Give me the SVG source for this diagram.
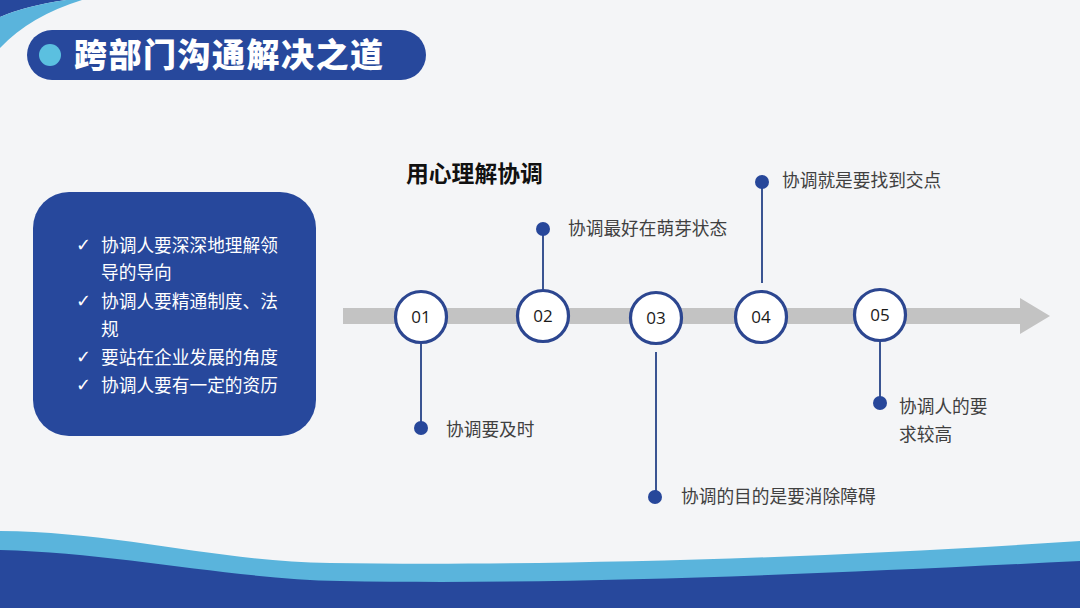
<svg xmlns="http://www.w3.org/2000/svg" width="1080" height="608" viewBox="0 0 1080 608">
  <defs>
    <style>
      .cn { font-family: "Noto Sans CJK SC", "Noto Sans", sans-serif; }
      .lbl { font-family: "Noto Sans CJK SC", sans-serif; font-size: 17.7px; fill: #404040; }
      .box { font-family: "Noto Sans CJK SC", sans-serif; font-size: 17.7px; fill: #ffffff; }
      .chk { font-family: "DejaVu Sans", sans-serif; font-size: 18px; fill: #ffffff; }
      .num { font-family: "Open Sans", "Noto Sans", sans-serif; font-size: 17px; fill: #1a1a1a; text-anchor: middle; }
      .ring { fill: #ffffff; stroke: #2c4690; stroke-width: 3.2; }
      .conn { stroke: #3a5492; stroke-width: 2; fill: none; }
      .dot { fill: #27479a; }
    </style>
  </defs>

  <!-- background -->
  <rect x="0" y="0" width="1080" height="608" fill="#f4f5f7"/>

  <!-- top-left swoosh -->
  <path d="M0,0 L66,0 Q25,6 0,17 Z" fill="#27489c"/>
  <path d="M66,0 L82,0 Q30,16 0,48 L0,17 Q25,6 66,0 Z" fill="#5ab4dc"/>

  <!-- bottom waves -->
  <path d="M0,531 C120,532 220,562 330,563 C520,566 800,560 1080,541 L1080,608 L0,608 Z" fill="#5ab4dc"/>
  <path d="M0,550 C120,553 230,579 340,581 C560,585 800,575 1080,561 L1080,608 L0,608 Z" fill="#27489c"/>

  <!-- title -->
  <g id="title">
    <rect x="27" y="30" width="399" height="50" rx="25" fill="#27489c"/>
    <circle cx="50" cy="55" r="11" fill="#5bc0e0"/>
    <text x="74" y="67" class="cn" font-size="33" font-weight="900" letter-spacing="1.5" fill="#ffffff">跨部门沟通解决之道</text>
  </g>

  <!-- left box -->
  <g id="leftbox">
    <rect x="33" y="192" width="283" height="244" rx="36" fill="#27489c"/>
    <text x="76" y="251" class="chk">✓</text>
    <text x="101" y="252" class="box">协调人要深深地理解领</text>
    <text x="101" y="279" class="box">导的导向</text>
    <text x="76" y="307" class="chk">✓</text>
    <text x="101" y="308" class="box">协调人要精通制度、法</text>
    <text x="101" y="336" class="box">规</text>
    <text x="76" y="363" class="chk">✓</text>
    <text x="101" y="364" class="box">要站在企业发展的角度</text>
    <text x="76" y="391" class="chk">✓</text>
    <text x="101" y="392" class="box">协调人要有一定的资历</text>
  </g>

  <!-- subtitle -->
  <text id="subtitle" x="406" y="182" class="cn" font-size="22.8" font-weight="bold" fill="#111111">用心理解协调</text>

  <!-- timeline arrow -->
  <g id="arrow">
    <rect x="343" y="308" width="680" height="16" fill="#c3c3c3"/>
    <polygon points="1020,298 1050,316 1020,334" fill="#c3c3c3"/>
  </g>

  <!-- connectors -->
  <g id="connectors">
    <line class="conn" x1="421" y1="343" x2="421" y2="428"/>
    <line class="conn" x1="543" y1="229" x2="543" y2="290"/>
    <line class="conn" x1="656" y1="352" x2="656" y2="497"/>
    <line class="conn" x1="762" y1="182" x2="762" y2="283"/>
    <line class="conn" x1="880" y1="341" x2="880" y2="403"/>
  </g>

  <!-- nodes -->
  <g id="n01">
    <circle class="ring" cx="421" cy="317" r="25.5"/>
    <text class="num" x="421" y="323">01</text>
    <circle class="dot" cx="421" cy="428" r="7"/>
    <text class="lbl" x="446" y="436">协调要及时</text>
  </g>
  <g id="n02">
    <circle class="ring" cx="543" cy="316" r="25.5"/>
    <text class="num" x="543" y="322">02</text>
    <circle class="dot" cx="543" cy="229" r="7"/>
    <text class="lbl" x="568" y="235">协调最好在萌芽状态</text>
  </g>
  <g id="n03">
    <circle class="ring" cx="656" cy="318" r="25.5"/>
    <text class="num" x="656" y="324">03</text>
    <circle class="dot" cx="655" cy="497" r="7"/>
    <text class="lbl" x="681" y="503">协调的目的是要消除障碍</text>
  </g>
  <g id="n04">
    <circle class="ring" cx="761" cy="317" r="25.5"/>
    <text class="num" x="761" y="323">04</text>
    <circle class="dot" cx="762" cy="182" r="7"/>
    <text class="lbl" x="782" y="187">协调就是要找到交点</text>
  </g>
  <g id="n05">
    <circle class="ring" cx="880" cy="315" r="25.5"/>
    <text class="num" x="880" y="321">05</text>
    <circle class="dot" cx="880" cy="403" r="7"/>
    <text class="lbl" x="899" y="413">协调人的要</text>
    <text class="lbl" x="899" y="441">求较高</text>
  </g>
</svg>
